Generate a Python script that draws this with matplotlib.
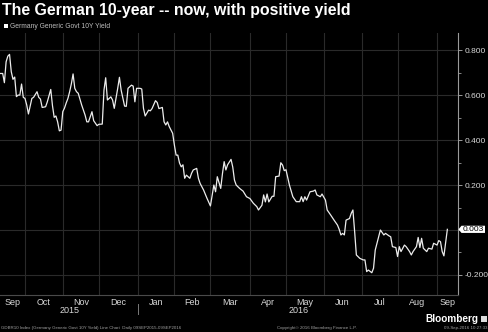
import numpy as np
import matplotlib
matplotlib.use("Agg")
import matplotlib.pyplot as plt
from matplotlib.patches import Polygon, Rectangle
from matplotlib.lines import Line2D

# Germany Generic Govt 10Y yield, indexed by trading session since 9 Sep 2015
start_date = np.datetime64("2015-09-09")
session = [
    0, 1, 3, 4, 5, 6, 7, 8, 9, 10, 11, 12, 13, 14, 15, 16, 17, 18, 20, 21,
    23, 24, 25, 26, 28, 29, 31, 32, 33, 34, 35, 36, 37, 38, 39, 40, 41, 42, 43, 44,
    45, 46, 47, 49, 51, 52, 53, 55, 56, 58, 59, 61, 62, 63, 64, 66, 67, 68, 70, 71,
    72, 74, 75, 76, 78, 79, 80, 81, 83, 84, 85, 86, 88, 89, 90, 92, 93, 94, 96, 97,
    98, 99, 100, 102, 103, 104, 105, 106, 107, 108, 109, 110, 112, 113, 114, 116, 117, 118, 120, 122,
    124, 126, 127, 128, 130, 131, 132, 133, 134, 136, 137, 138, 139, 141, 143, 145, 147, 149, 151, 152,
    154, 155, 156, 157, 158, 160, 161, 162, 164, 165, 166, 167, 168, 170, 172, 174, 176, 177, 178, 179,
    180, 182, 184, 185, 186, 188, 189, 191, 192, 194, 196, 198, 199, 200, 201, 202, 203, 205, 206, 207,
    208, 209, 211, 213, 214, 215, 216, 218, 219, 220, 222, 223, 225, 226, 228, 229, 230, 232, 233, 234,
    235, 237, 238, 240, 241, 242, 244, 245, 246, 247, 248, 250, 251, 253, 254, 256, 257, 258, 259, 260,
    262,
]
yield_pct = [
    0.700, 0.696, 0.696, 0.655, 0.748, 0.773, 0.781, 0.704, 0.670, 0.680, 0.593, 0.600, 0.600, 0.649, 0.590, 0.585, 0.556, 0.516, 0.585, 0.590,
    0.615, 0.590, 0.582, 0.545, 0.548, 0.570, 0.625, 0.553, 0.501, 0.507, 0.481, 0.441, 0.444, 0.526, 0.542, 0.565, 0.585, 0.615, 0.650, 0.694,
    0.630, 0.615, 0.608, 0.556, 0.511, 0.481, 0.481, 0.526, 0.486, 0.464, 0.470, 0.471, 0.622, 0.677, 0.578, 0.592, 0.578, 0.541, 0.630, 0.679,
    0.622, 0.551, 0.550, 0.630, 0.644, 0.640, 0.570, 0.630, 0.630, 0.627, 0.541, 0.507, 0.533, 0.530, 0.540, 0.575, 0.567, 0.540, 0.545, 0.481,
    0.467, 0.481, 0.460, 0.430, 0.378, 0.333, 0.333, 0.298, 0.281, 0.290, 0.230, 0.244, 0.230, 0.252, 0.267, 0.274, 0.230, 0.207, 0.178, 0.141,
    0.107, 0.200, 0.170, 0.237, 0.185, 0.250, 0.304, 0.267, 0.290, 0.314, 0.280, 0.222, 0.200, 0.185, 0.173, 0.148, 0.140, 0.119, 0.104, 0.089,
    0.110, 0.156, 0.125, 0.160, 0.125, 0.150, 0.150, 0.237, 0.240, 0.299, 0.289, 0.264, 0.268, 0.200, 0.148, 0.126, 0.126, 0.148, 0.126, 0.148,
    0.133, 0.170, 0.173, 0.178, 0.156, 0.148, 0.160, 0.133, 0.089, 0.067, 0.044, 0.022, 0.003, -0.022, -0.015, -0.022, 0.044, 0.051, 0.074, 0.089,
    -0.007, -0.111, -0.126, -0.133, -0.133, -0.185, -0.178, -0.190, -0.170, -0.089, -0.030, 0.000, -0.022, -0.015, -0.026, -0.030, -0.074, -0.078, -0.118, -0.074,
    -0.096, -0.067, -0.074, -0.096, -0.111, -0.096, -0.074, -0.033, -0.078, -0.037, -0.081, -0.096, -0.081, -0.085, -0.059, -0.067, -0.047, -0.052, -0.096, -0.115,
    0.003,
]
last_value = 0.003

month_names = ["Sep", "Oct", "Nov", "Dec", "Jan", "Feb", "Mar", "Apr", "May", "Jun", "Jul", "Aug", "Sep"]
year_names = ["2015", "2016"]
ytick_values = [-0.2, 0.2, 0.4, 0.6, 0.8]
grid_values = [-0.2, 0.0, 0.2, 0.4, 0.6, 0.8]

title = "The German 10-year -- now, with positive yield"
series_name = "Germany Generic Govt 10Y Yield"
footer_left = "GDBR10 Index (Germany Generic Govt 10Y Yield) Line Chart  Daily 09SEP2015-09SEP2016"
footer_mid = "Copyright\u00a9 2016 Bloomberg Finance L.P."
footer_right = "09-Sep-2016 10:27:33"

FONT = "Liberation Sans"
W, H = 488, 332


def fx(px):
    return px / W


def fy(py):
    return 1 - py / H


fig = plt.figure(figsize=(W / 100, H / 100), dpi=100, facecolor="black")
ax = fig.add_axes([fx(0), fy(295), fx(458), (295 - 33) / H])
ax.set_facecolor("black")

# month boundaries as trading-session positions
month_starts = np.arange(np.datetime64("2015-10"), np.datetime64("2016-10"),
                         dtype="datetime64[M]").astype("datetime64[D]")
bounds = np.busday_count(start_date, month_starts)
x_lo, x_hi = 1.44, 268.2
ax.set_xlim(x_lo, x_hi)
ax.set_ylim(-0.289, 0.876)

grid_c = "#2a2a2a"
for b in bounds:
    ax.axvline(b, color=grid_c, lw=0.8, zorder=1)
for g in grid_values:
    ax.axhline(g, color=grid_c, lw=0.8, zorder=1)

ax.plot(session, yield_pct, color="#ececec", lw=0.9, zorder=3, solid_joinstyle="round")

# spines
for side in ("left", "top"):
    ax.spines[side].set_visible(False)
ax.spines["right"].set_color("#9a9a9a")
ax.spines["right"].set_linewidth(0.8)
ax.spines["bottom"].set_color("#4a4a4a")
ax.spines["bottom"].set_linewidth(0.8)

# right value axis
ax.yaxis.tick_right()
ax.set_yticks(ytick_values)
ax.set_yticklabels([f"{v:.3f}" for v in ytick_values])
ax.set_yticks(np.arange(-0.2, 0.85, 0.1), minor=True)
ax.tick_params(axis="y", which="major", length=3, width=0.7, color="#9a9a9a",
               labelsize=6, labelcolor="#d8d8d8", pad=1.5)
ax.tick_params(axis="y", which="minor", length=2, width=0.6, color="#9a9a9a")
for lab in ax.get_yticklabels():
    lab.set_family(FONT)

# month labels centred between boundaries
edges = np.concatenate([[x_lo], bounds, [x_hi]])
mids = (edges[:-1] + edges[1:]) / 2
ax.set_xticks(bounds)
ax.set_xticklabels([])
ax.set_xticks(mids, minor=True)
ax.set_xticklabels(month_names, minor=True)
ax.tick_params(axis="x", which="both", length=0, labelsize=6.5, labelcolor="#d8d8d8", pad=2.5)
for lab in ax.get_xticklabels(minor=True):
    lab.set_family(FONT)

# year labels and separator
jan = bounds[3]
y_year = fy(310.5)
x0_disp = ax.transData.transform((x_lo, 0))[0] / W
xj_disp = ax.transData.transform((jan, 0))[0] / W
xr_disp = ax.transData.transform((x_hi, 0))[0] / W
fig.text((x0_disp + xj_disp) / 2, y_year, year_names[0], ha="center", va="center",
         fontsize=6.5, color="#d8d8d8", family=FONT)
fig.text((xj_disp + xr_disp) / 2, y_year, year_names[1], ha="center", va="center",
         fontsize=6.5, color="#d8d8d8", family=FONT)
fig.add_artist(Line2D([xj_disp, xj_disp], [fy(304), fy(314)], color="#7a7a7a", lw=0.7,
                      transform=fig.transFigure))

# last value marker on the axis
y_last = ax.transData.transform((0, last_value))[1] / H
hh = 3.6 / H
poly = Polygon([[fx(458.5), y_last], [fx(461.5), y_last + hh], [fx(485), y_last + hh],
                [fx(485), y_last - hh], [fx(461.5), y_last - hh]], closed=True,
               facecolor="white", edgecolor="none", transform=fig.transFigure)
fig.add_artist(poly)
fig.text(fx(462.5), y_last, f"{last_value:.3f}", ha="left", va="center",
         fontsize=6, color="black", family=FONT)

# title and series key
fig.text(fx(2), fy(11), title, ha="left", va="center", fontsize=11.4,
         weight="bold", color="white", family=FONT)
fig.add_artist(Rectangle((fx(4), fy(28)), 3.5 / W, 3.5 / H, facecolor="white",
                         edgecolor="none", transform=fig.transFigure))
fig.text(fx(9.5), fy(26), series_name, ha="left", va="center", fontsize=4.9,
         color="#bdbdbd", family=FONT)

# footer
fig.text(fx(1), fy(327.5), footer_left, ha="left", va="center", fontsize=3.2,
         color="#a0a0a0", family=FONT)
fig.text(fx(317), fy(327.5), footer_mid, ha="center", va="center", fontsize=3.2,
         color="#a0a0a0", family=FONT)
fig.text(fx(487), fy(327.5), footer_right, ha="right", va="center", fontsize=3.2,
         color="#a0a0a0", family=FONT)
fig.text(fx(478), fy(319), "Bloomberg", ha="right", va="center", fontsize=7.2,
         weight="bold", color="white", family=FONT)
fig.add_artist(Rectangle((fx(480.5), fy(322)), 6 / W, 6 / H, facecolor="#dcdcdc",
                         edgecolor="none", transform=fig.transFigure))

fig.savefig("out.png", dpi=100, facecolor="black")
